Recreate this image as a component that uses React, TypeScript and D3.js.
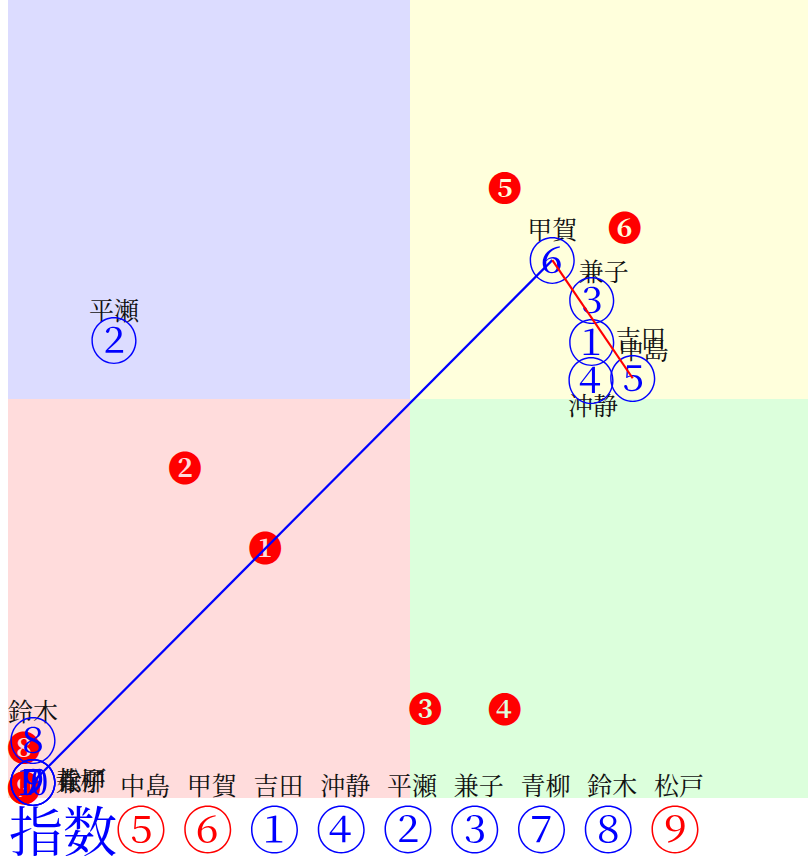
import React, { useEffect, useRef } from 'react';
import * as d3 from 'd3';

// members: circled index, name, position
const memberNo = [1, 2, 3, 4, 5, 6, 7, 8, 9, 10];
const memberName = ['吉田', '平瀬', '兼子', '沖静', '中島', '甲賀', '青柳', '鈴木', '松戸', '兼子'];
const memberX = [7.26, 1.32, 7.26, 7.25, 7.77, 6.77, 0.31, 0.31, 0.31, 0.31];
const memberY = [5.71, 5.74, 6.24, 5.24, 5.26, 6.74, 0.2, 0.73, 0.2, 0.2];

// red markers
const markerNo = [1, 2, 3, 4, 5, 6, 8, 9, 10];
const markerX = [3.2, 2.2, 5.19, 6.18, 6.18, 7.67, 0.2, 0.2, 0.2];
const markerY = [3.15, 4.15, 1.14, 1.14, 7.66, 7.16, 0.65, 0.15, 0.15];

// connections (member numbers)
const blueLink = [7, 6];
const redLink = [6, 5];

// legend row
const legendOrder = [5, 6, 1, 4, 2, 3, 7, 8, 9];
const legendRed = [5, 6, 9];

const split = 5;

// label offset (px) relative to point, per member index
const labelOffset: Record<number, [number, number]> = {
  1: [49, -5], 2: [0, -31], 3: [12, -30], 4: [2, 24], 5: [11, -30],
  6: [0, -32], 7: [47, -3], 8: [0, -30], 9: [49, -4], 10: [48, -2],
};

const circled = (n: number) => String.fromCharCode(0x2460 + n - 1);
const dark = (n: number) => String.fromCharCode(0x2776 + n - 1);

const MINCHO = '"Noto Serif CJK JP", "Noto Serif CJK SC", "IPAMincho", "IPAexMincho", "TakaoMincho", serif';

const App: React.FC = () => {
  const svgRef = useRef<SVGSVGElement>(null);

  useEffect(() => {
    if (!svgRef.current) return;
    const svg = d3.select(svgRef.current);
    svg.selectAll('*').remove();

    const x = d3.scaleLinear().domain([0, 10]).range([8, 812]);
    const y = d3.scaleLinear().domain([0, 10]).range([798, 0]);

    // quadrants
    const quads = [
      { x0: 0, x1: split, y0: split, y1: 10, c: '#dcdcff' },
      { x0: split, x1: 10, y0: split, y1: 10, c: '#ffffdc' },
      { x0: 0, x1: split, y0: 0, y1: split, c: '#ffdcdc' },
      { x0: split, x1: 10, y0: 0, y1: split, c: '#dcffdc' },
    ];
    svg.append('g').selectAll('rect').data(quads).join('rect')
      .attr('x', d => x(d.x0)).attr('y', d => y(d.y1))
      .attr('width', d => x(d.x1) - x(d.x0)).attr('height', d => y(d.y0) - y(d.y1))
      .attr('fill', d => d.c);

    const members = memberNo.map((n, i) => ({ n, name: memberName[i], x: memberX[i], y: memberY[i] }));
    const byNo = (n: number) => members.find(m => m.n === n)!;

    // red markers
    svg.append('g').selectAll('text').data(markerNo).join('text')
      .attr('x', (_, i) => x(markerX[i])).attr('y', (_, i) => y(markerY[i]))
      .attr('text-anchor', 'middle').attr('dominant-baseline', 'central')
      .attr('fill', 'red').attr('font-size', 34).attr('font-weight', 'bold')
      .attr('font-family', MINCHO)
      .text(d => dark(d));

    // labels
    svg.append('g').selectAll('text').data(members).join('text')
      .attr('x', d => x(d.x) + labelOffset[d.n][0]).attr('y', d => y(d.y) + labelOffset[d.n][1])
      .attr('text-anchor', 'middle').attr('dominant-baseline', 'central')
      .attr('fill', '#111').attr('font-size', 25).attr('font-family', MINCHO)
      .text(d => d.name);

    // circled members
    svg.append('g').selectAll('text').data(members).join('text')
      .attr('x', d => x(d.x)).attr('y', d => y(d.y) - 2)
      .attr('text-anchor', 'middle').attr('dominant-baseline', 'central')
      .attr('fill', 'blue').attr('font-size', 49).attr('font-family', MINCHO)
      .text(d => circled(d.n));

    // links
    const line = d3.line<{ x: number; y: number }>().x(d => x(d.x)).y(d => y(d.y));
    svg.append('path').attr('d', line(blueLink.map(byNo)))
      .attr('fill', 'none').attr('stroke', 'blue').attr('stroke-width', 2.2);
    svg.append('path').attr('d', line(redLink.map(byNo)))
      .attr('fill', 'none').attr('stroke', 'red').attr('stroke-width', 2.2);

    // legend
    const lx = d3.scalePoint<number>().domain(legendOrder).range([141, 675]);
    svg.append('g').selectAll('text').data(legendOrder).join('text')
      .attr('x', d => (lx(d) as number) + 4).attr('y', 784)
      .attr('text-anchor', 'middle').attr('dominant-baseline', 'central')
      .attr('fill', '#111').attr('font-size', 25).attr('font-family', MINCHO)
      .text(d => byNo(d).name);
    svg.append('text').attr('x', 9).attr('y', 828)
      .attr('dominant-baseline', 'central').attr('fill', 'blue').attr('font-size', 54)
      .attr('font-family', MINCHO)
      .text('指数');
    svg.append('g').selectAll('text').data(legendOrder).join('text')
      .attr('x', d => lx(d) as number).attr('y', 827)
      .attr('text-anchor', 'middle').attr('dominant-baseline', 'central')
      .attr('fill', d => legendRed.includes(d) ? 'red' : 'blue').attr('font-size', 51)
      .attr('font-family', MINCHO)
      .text(d => circled(d));
  }, []);

  return (
    <svg ref={svgRef} width={808} height={856}
      style={{ position: 'absolute', left: 0, top: 0 }} />
  );
};

export default App;
